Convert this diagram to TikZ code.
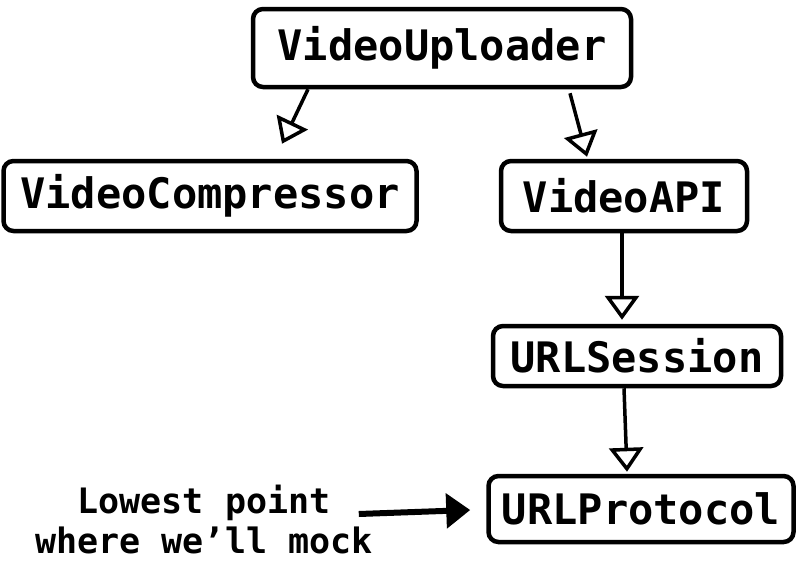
\documentclass[tikz,border=0pt]{standalone}
\usepackage{fontspec}
\setmonofont{DejaVu Sans Mono}
\usetikzlibrary{arrows.meta}
\tikzset{
  box/.style={draw=black, line width=4.5pt, rounded corners=10pt, fill=white, inner sep=0pt,
    font=\ttfamily\bfseries\fontsize{42}{46}\selectfont},
  openarrow/.style={line width=3.5pt, -{Triangle[open, length=24pt, width=34pt, fill=white]}},
  pointer/.style={line width=6pt, -{Triangle[length=24pt, width=34pt]}},
  notetext/.style={inner sep=0pt, align=center, font=\ttfamily\bfseries\fontsize{35}{40}\selectfont}
}
\begin{document}
\begin{tikzpicture}[x=1pt, y=-1pt]
\useasboundingbox[fill=white] (0,0) rectangle (800,562);
\node[box, minimum width=378pt, minimum height=78pt] (up) at (442,48) {VideoUploader};
\node[box, minimum width=413pt, minimum height=70pt] (comp) at (210,196) {VideoCompressor};
\node[box, minimum width=246pt, minimum height=70pt] (api) at (624,196) {VideoAPI};
\node[box, minimum width=288pt, minimum height=60pt] (sess) at (637,356) {URLSession};
\node[box, minimum width=305pt, minimum height=66pt] (proto) at (641,509) {URLProtocol};
\node[notetext] (note) at (204,520) {Lowest point\\where we’ll mock};

\draw[openarrow] ([xshift=-134pt]up.south) -- ([xshift=72pt, yshift=15pt]comp.north);
\draw[openarrow] ([xshift=128pt, yshift=-4pt]up.south) -- ([xshift=-37pt, yshift=2pt]api.north);
\draw[openarrow] ([xshift=-2pt]api.south) -- ([xshift=-15pt, yshift=4pt]sess.north);
\draw[openarrow] ([xshift=-13pt]sess.south) -- ([xshift=-14pt, yshift=2pt]proto.north);
\draw[pointer] ([xshift=-14pt, yshift=6pt]note.east) -- ([xshift=-16pt, yshift=-1pt]proto.west);
\end{tikzpicture}
\end{document}
